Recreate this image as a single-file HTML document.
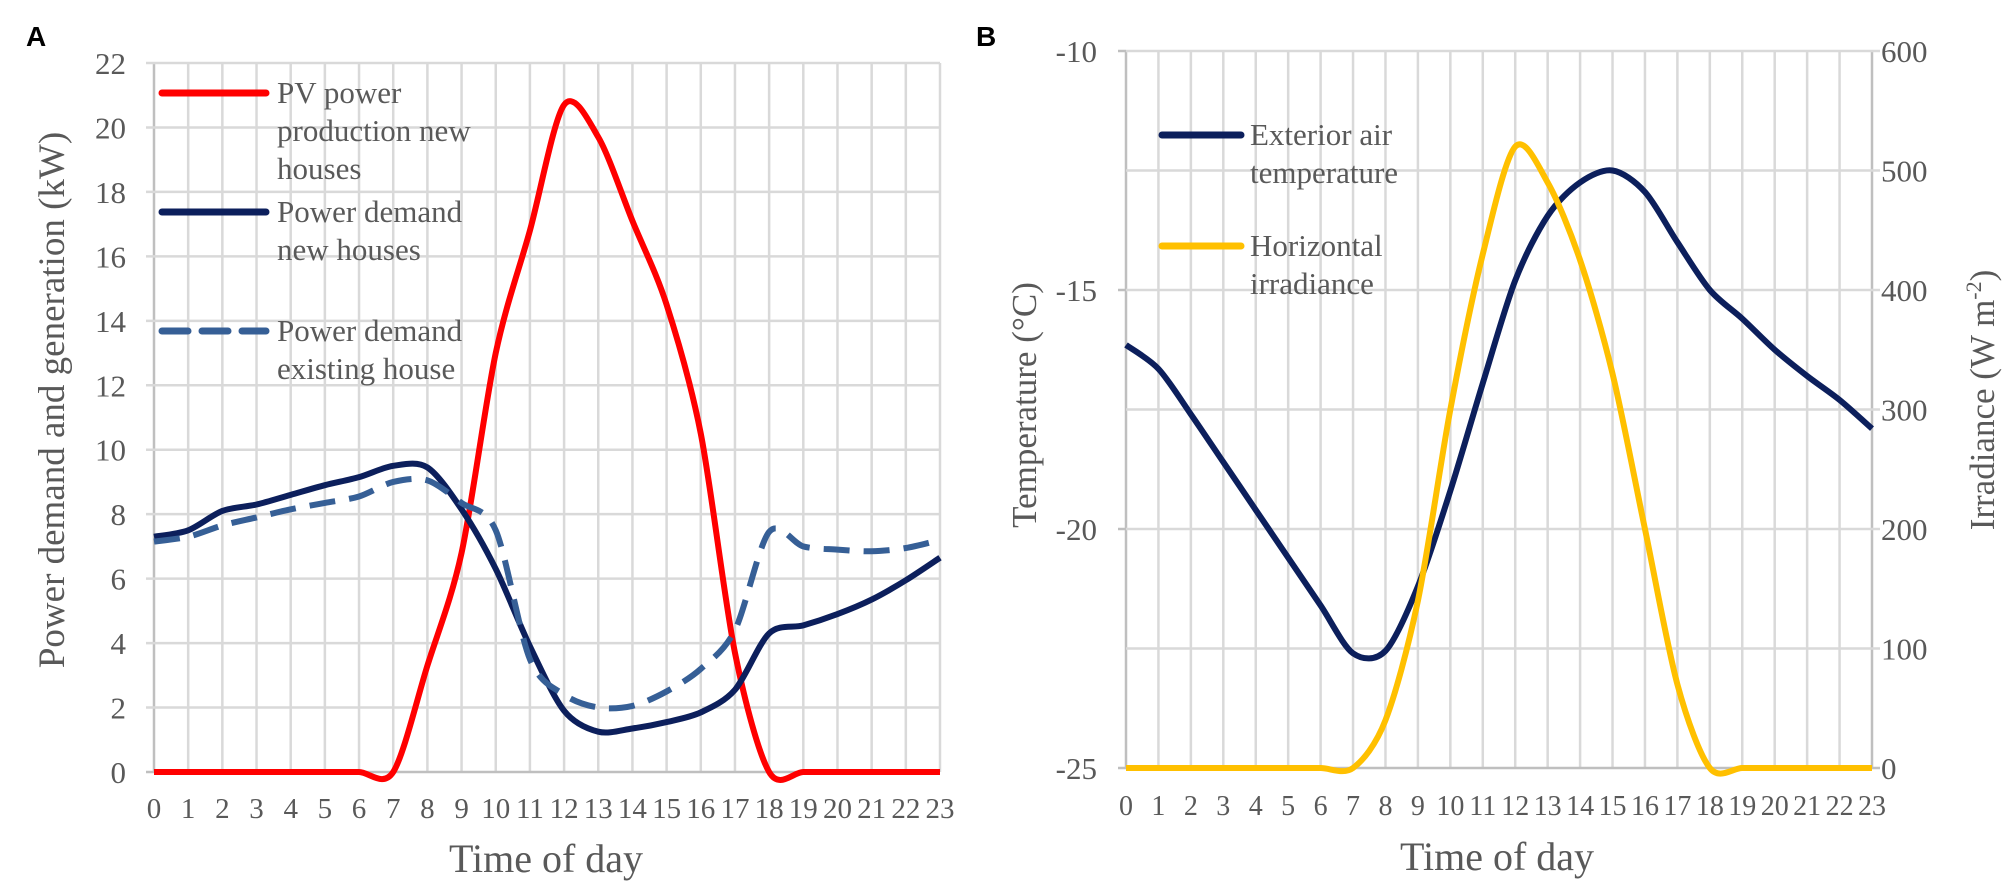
<!DOCTYPE html>
<html><head><meta charset="utf-8"><style>
html,body{margin:0;padding:0;background:#fff;}
svg{display:block;font-family:"Liberation Serif",serif;}
</style></head><body>
<svg id="fig" width="2008" height="882" viewBox="0 0 2008 882" xmlns="http://www.w3.org/2000/svg">
<g id="A"></g>
<g id="B"></g>
</svg>
<script>
const hours=[0,1,2,3,4,5,6,7,8,9,10,11,12,13,14,15,16,17,18,19,20,21,22,23];
const yTicksA=[0,2,4,6,8,10,12,14,16,18,20,22];
const pvNew=[0,0,0,0,0,0,0,0,3.3,6.8,13.0,16.8,20.7,19.7,17.1,14.5,10.5,3.7,0,0,0,0,0,0];
const demandNew=[7.3,7.5,8.1,8.3,8.6,8.9,9.15,9.5,9.45,8.15,6.3,3.9,1.9,1.25,1.35,1.55,1.85,2.55,4.3,4.55,4.9,5.35,5.95,6.65];
const demandExisting=[7.15,7.3,7.65,7.9,8.15,8.35,8.55,9.0,9.05,8.35,7.5,3.5,2.4,2.0,2.05,2.5,3.2,4.4,7.45,7.0,6.9,6.85,6.95,7.2];
const yTicksBLeft=[-25,-20,-15,-10];
const yTicksBRight=[0,100,200,300,400,500,600];
const temperature=[-16.15,-16.65,-17.6,-18.6,-19.6,-20.6,-21.6,-22.6,-22.55,-21.2,-19.2,-16.95,-14.8,-13.45,-12.75,-12.5,-12.95,-14.0,-15.0,-15.6,-16.25,-16.8,-17.3,-17.9];
const irradiance=[0,0,0,0,0,0,0,0,40,140,300,430,520,490,425,330,200,70,0,0,0,0,0,0];

const NS="http://www.w3.org/2000/svg";
function mk(parent,tag,attrs,text){const e=document.createElementNS(NS,tag);for(const k in attrs)e.setAttribute(k,attrs[k]);if(text!==undefined)e.textContent=text;parent.appendChild(e);return e;}
function smooth(pts){let d="M"+pts[0][0]+","+pts[0][1];for(let i=0;i<pts.length-1;i++){const p0=pts[Math.max(i-1,0)],p1=pts[i],p2=pts[i+1],p3=pts[Math.min(i+2,pts.length-1)];const t=0.15;d+=" C"+(p1[0]+(p2[0]-p0[0])*t)+","+(p1[1]+(p2[1]-p0[1])*t)+" "+(p2[0]-(p3[0]-p1[0])*t)+","+(p2[1]-(p3[1]-p1[1])*t)+" "+p2[0]+","+p2[1];}return d;}
const TXT="#595959",GRID="#d9d9d9",AX="#bfbfbf";

// Panel A
(function(){
const g=document.getElementById('A');
const x0=154,x1=940,yb=772,yt=63;
const X=h=>x0+(x1-x0)*h/23, Y=v=>yb-(yb-yt)*v/22;
hours.forEach(h=>{const l=mk(g,'line',{x1:X(h),x2:X(h),y1:yt,y2:yb,stroke:h===0?AX:GRID,'stroke-width':2.5});

const t=mk(g,'text',{x:X(h),y:818,'text-anchor':'middle','font-size':29,fill:TXT},String(h));
});
yTicksA.forEach(v=>{const l=mk(g,'line',{x1:x0-8,x2:x1,y1:Y(v),y2:Y(v),stroke:v===0?AX:GRID,'stroke-width':2.5});

const t=mk(g,'text',{x:126,y:Y(v)+11,'text-anchor':'end','font-size':31,fill:TXT},String(v));
});
const series=[[pvNew,'#ff0000',null,'pv-production-line'],[demandNew,'#0c1f5c',null,'demand-new-line'],[demandExisting,'#365f96','26 14','demand-existing-line']];
series.forEach(s=>{const p=mk(g,'path',{d:smooth(s[0].map((v,i)=>[X(hours[i]),Y(v)])),fill:'none',stroke:s[1],'stroke-width':6,'stroke-linejoin':'round'});
if(s[2])p.setAttribute('stroke-dasharray',s[2]);
});
const t1=mk(g,'text',{x:26,y:46,'font-family':'Liberation Sans, sans-serif','font-weight':'bold','font-size':28,fill:'#000'},'A');

const yt1=mk(g,'text',{transform:'translate(64,400) rotate(-90)','text-anchor':'middle','font-size':37,fill:TXT},'Power demand and generation (kW)');

const xt=mk(g,'text',{x:546,y:872,'text-anchor':'middle','font-size':40,fill:TXT},'Time of day');

const leg=[['#ff0000',null,93,['PV power','production new','houses']],['#0c1f5c',null,212,['Power demand','new houses']],['#365f96','26 14',331,['Power demand','existing house']]];
leg.forEach((e,k)=>{const l=mk(g,'line',{x1:162,x2:266,y1:e[2],y2:e[2],stroke:e[0],'stroke-width':7,'stroke-linecap':'round'});
if(e[1])l.setAttribute('stroke-dasharray',e[1]);

const t=mk(g,'text',{x:277,y:e[2]+10,'font-size':31,fill:TXT});

e[3].forEach((s,j)=>mk(t,'tspan',{x:277,y:e[2]+10+j*38},s));});
})();

// Panel B
(function(){
const g=document.getElementById('B');
const x0=1126,x1=1872,yb=768,yt=51;
const X=h=>x0+(x1-x0)*h/23, YL=v=>yb-(yb-yt)*(v+25)/15, YR=v=>yb-(yb-yt)*v/600;
hours.forEach(h=>{const l=mk(g,'line',{x1:X(h),x2:X(h),y1:yt,y2:yb,stroke:(h===0||h===23)?AX:GRID,'stroke-width':2.5});

const t=mk(g,'text',{x:X(h),y:815,'text-anchor':'middle','font-size':28,fill:TXT},String(h));
});
yTicksBRight.forEach(v=>{const l=mk(g,'line',{x1:x0,x2:x1+8,y1:YR(v),y2:YR(v),stroke:v===0?AX:GRID,'stroke-width':2.5});

const t=mk(g,'text',{x:1881,y:YR(v)+11,'text-anchor':'start','font-size':31,fill:TXT},String(v));
});
yTicksBLeft.forEach(v=>{const l=mk(g,'line',{x1:x0-8,x2:x0,y1:YL(v),y2:YL(v),stroke:AX,'stroke-width':2.5});

const t=mk(g,'text',{x:1097,y:YL(v)+11,'text-anchor':'end','font-size':31,fill:TXT},String(v));
});
const p1=mk(g,'path',{d:smooth(temperature.map((v,i)=>[X(hours[i]),YL(v)])),fill:'none',stroke:'#0c1f5c','stroke-width':6,'stroke-linejoin':'round'});

const p2=mk(g,'path',{d:smooth(irradiance.map((v,i)=>[X(hours[i]),YR(v)])),fill:'none',stroke:'#ffc000','stroke-width':6,'stroke-linejoin':'round'});

const lb=mk(g,'text',{x:976,y:46,'font-family':'Liberation Sans, sans-serif','font-weight':'bold','font-size':28,fill:'#000'},'B');

const yl=mk(g,'text',{transform:'translate(1036,405) rotate(-90)','text-anchor':'middle','font-size':35,fill:TXT},'Temperature (°C)');

const yr=mk(g,'text',{transform:'translate(1994,400) rotate(-90)','text-anchor':'middle','font-size':35,fill:TXT});

mk(yr,'tspan',{},'Irradiance (W m');mk(yr,'tspan',{'font-size':22,dy:-13},'-2');mk(yr,'tspan',{dy:13},')');
const xt=mk(g,'text',{x:1497,y:870,'text-anchor':'middle','font-size':40,fill:TXT},'Time of day');

const leg=[['#0c1f5c',135,['Exterior air','temperature']],['#ffc000',246,['Horizontal','irradiance']]];
leg.forEach(e=>{const l=mk(g,'line',{x1:1162,x2:1241,y1:e[1],y2:e[1],stroke:e[0],'stroke-width':7,'stroke-linecap':'round'});

const t=mk(g,'text',{x:1250,y:e[1]+10,'font-size':31,fill:TXT});

e[2].forEach((s,j)=>mk(t,'tspan',{x:1250,y:e[1]+10+j*38},s));});
})();
</script>
</body></html>
